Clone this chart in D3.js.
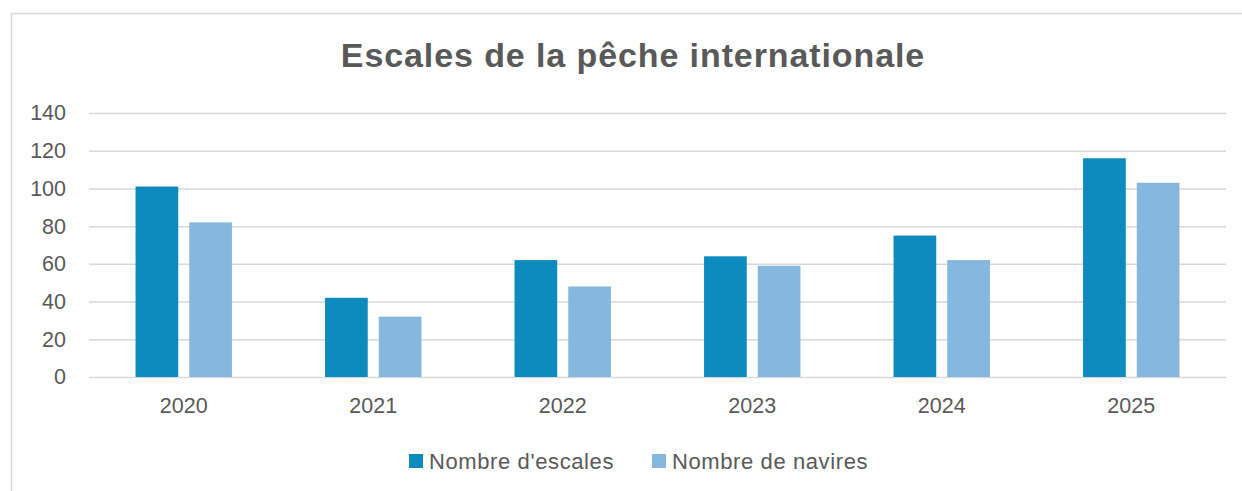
<!DOCTYPE html>
<html><head><meta charset="utf-8">
<script src="https://cdn.jsdelivr.net/npm/d3@7"></script>
<style>body{margin:0;background:#fff;}svg{display:block;}</style>
</head><body>
<svg id="c" width="1242" height="491"></svg>
<script>
const categories = ["2020","2021","2022","2023","2024","2025"];
const seriesNames = ["Nombre d'escales","Nombre de navires"];
const escales = [101,42,62,64,75,116];
const navires = [82,32,48,59,62,103];
const yTicks = [0,20,40,60,80,100,120,140];
const colors = ["#0E8BBE","#86B8DF"];

(function(){
const svg = d3.select("#c");
const font = "Liberation Sans, Arial, sans-serif";
const textColor = "#595959";

svg.append("path").attr("d","M11.5,491 V13.5 H1242").attr("fill","none").attr("stroke","#d9d9d9").attr("stroke-width",1.5);

const pL = 89, pR = 1226, pT = 113, pB = 377;
const x = d3.scaleBand().domain(categories).range([pL,pR]);
const y = d3.scaleLinear().domain([0,140]).range([pB,pT]);

svg.append("text").attr("x",633).attr("y",67).attr("text-anchor","middle")
  .attr("font-family",font).attr("font-weight","bold").attr("font-size",34)
  .attr("letter-spacing",0.9)
  .attr("fill",textColor).text("Escales de la pêche internationale");

const yAxis = d3.axisLeft(y).tickValues(yTicks).tickSize(-(pR-pL)).tickPadding(23);
const gy = svg.append("g").attr("transform",`translate(${pL},0)`).call(yAxis);
gy.select(".domain").remove();
gy.selectAll(".tick line").attr("stroke","#d9d9d9").attr("stroke-width",1.5);
gy.selectAll(".tick text").attr("font-family",font).attr("font-size",21.5).attr("fill",textColor);

const barW = 42.7, gap = 11;
[escales, navires].forEach((vals,si)=>{
  svg.append("g").selectAll("rect").data(vals).join("rect")
    .attr("x",(d,i)=> x(categories[i]) + x.bandwidth()/2 + (si===0 ? -gap/2-barW : gap/2))
    .attr("y",d=>y(d)).attr("width",barW).attr("height",d=>pB-y(d))
    .attr("fill",colors[si]);
});

const xAxis = d3.axisBottom(x).tickSize(0).tickPadding(21);
const gx = svg.append("g").attr("transform",`translate(0,${pB})`).call(xAxis);
gx.select(".domain").remove();
gx.selectAll(".tick text").attr("font-family",font).attr("font-size",21.5).attr("fill",textColor);

const legX = [409, 652];
seriesNames.forEach((n,i)=>{
  svg.append("rect").attr("x",legX[i]).attr("y",454).attr("width",14).attr("height",14).attr("fill",colors[i]);
  svg.append("text").attr("x",legX[i]+20).attr("y",468.5).attr("font-family",font).attr("font-size",22)
    .attr("letter-spacing",0.6).attr("fill",textColor).text(n);
});
})();
</script>
</body></html>
